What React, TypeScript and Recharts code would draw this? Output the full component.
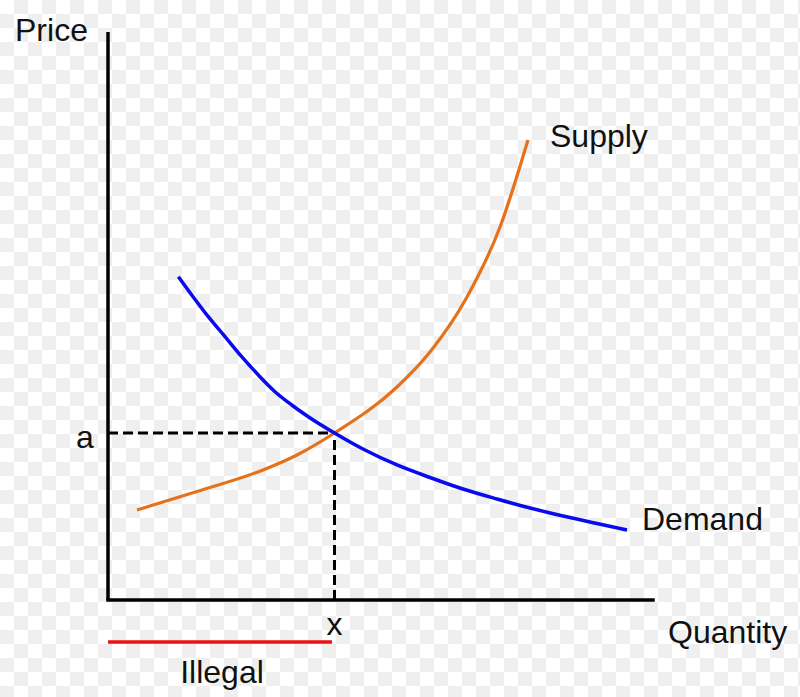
import React from 'react';
import { LineChart, Line, XAxis, YAxis, ReferenceLine, ReferenceDot } from 'recharts';

// Supply curve (quantity, price)
const supplyQty = [5.32, 16.33, 28.44, 34.68, 41.56, 53.03, 59.08, 65.87, 71.93, 77.06];
const supplyPrice = [15.85, 19.1, 22.89, 25.53, 29.4, 37.5, 43.66, 53.35, 65.67, 80.99];

// Demand curve (quantity, price)
const demandQty = [12.9, 15.36, 18.4, 21.47, 24.53, 27.58, 30.64, 33.71, 36.75, 41.56, 46.79, 53.03, 59.08, 65.14, 71.38, 77.43, 83.49, 89.72, 95.23];
const demandPrice = [56.92, 53.7, 49.88, 46.36, 42.83, 39.61, 36.67, 34.33, 32.27, 29.4, 26.58, 23.77, 21.57, 19.54, 17.78, 16.2, 14.79, 13.47, 12.32];

// Equilibrium
const eqQty = 41.56;
const eqPrice = 29.4;

// Illegal range on quantity axis
const illegalFrom = 0;
const illegalTo = 41.1;

const supplyData = supplyQty.map((q, i) => ({ q, p: supplyPrice[i] }));
const demandData = demandQty.map((q, i) => ({ q, p: demandPrice[i] }));

const FONT = '"Liberation Sans", Arial, Helvetica, sans-serif';

const txt = (value: string, anchor: 'start' | 'middle' | 'end' = 'start') => (props: any) => {
  const vb = props.viewBox || {};
  const x = (vb.x ?? 0) + (vb.width ?? 0) / 2;
  const y = (vb.y ?? 0) + (vb.height ?? 0) / 2;
  return (
    <text x={x} y={y} textAnchor={anchor} fontSize={32} fontFamily={FONT} fill="#111">
      {value}
    </text>
  );
};

const G = '#efefef';

export default function App() {
  return (
    <div
      style={{
        position: 'absolute',
        left: 0,
        top: 0,
        width: 800,
        height: 697,
        backgroundColor: '#ffffff',
        backgroundImage: `linear-gradient(45deg, ${G} 25%, transparent 25%, transparent 75%, ${G} 75%), linear-gradient(45deg, ${G} 25%, transparent 25%, transparent 75%, ${G} 75%)`,
        backgroundSize: '28px 28px',
        backgroundPosition: '0px 0px, 14px 14px',
      }}
    >
      <LineChart width={800} height={697} margin={{ top: 32, right: 147, bottom: 97, left: 108 }}>
        <XAxis type="number" dataKey="q" domain={[0, 100]} hide />
        <YAxis type="number" dataKey="p" domain={[0, 100]} hide />
        <ReferenceLine
          segment={[{ x: 0, y: eqPrice }, { x: eqQty, y: eqPrice }]}
          stroke="#000"
          strokeWidth={3}
          strokeDasharray="10 5"
          ifOverflow="visible"
        />
        <ReferenceLine
          segment={[{ x: eqQty, y: 0 }, { x: eqQty, y: eqPrice }]}
          stroke="#000"
          strokeWidth={3}
          strokeDasharray="10 5"
          ifOverflow="visible"
        />
        <ReferenceLine
          segment={[{ x: illegalFrom, y: -7.4 }, { x: illegalTo, y: -7.4 }]}
          stroke="#ee1111"
          strokeWidth={3.5}
          ifOverflow="visible"
        />
        <ReferenceLine
          segment={[{ x: 0, y: 0 }, { x: 100, y: 0 }]}
          stroke="#000"
          strokeWidth={3.5}
          strokeLinecap="square"
          ifOverflow="visible"
        />
        <ReferenceLine
          segment={[{ x: 0, y: 0 }, { x: 0, y: 100 }]}
          stroke="#000"
          strokeWidth={3.5}
          ifOverflow="visible"
        />
        <Line
          data={supplyData}
          dataKey="p"
          type="monotone"
          stroke="#e5721a"
          strokeWidth={3.2}
          dot={false}
          isAnimationActive={false}
        />
        <Line
          data={demandData}
          dataKey="p"
          type="monotone"
          stroke="#0a0aee"
          strokeWidth={3.5}
          dot={false}
          isAnimationActive={false}
        />
        <ReferenceDot x={-17.06} y={98.42} r={0} fill="none" stroke="none" ifOverflow="visible" label={txt('Price')} />
        <ReferenceDot x={81.1} y={79.75} r={0} fill="none" stroke="none" ifOverflow="visible" label={txt('Supply')} />
        <ReferenceDot x={97.98} y={12.32} r={0} fill="none" stroke="none" ifOverflow="visible" label={txt('Demand')} />
        <ReferenceDot x={102.75} y={-7.57} r={0} fill="none" stroke="none" ifOverflow="visible" label={txt('Quantity')} />
        <ReferenceDot x={-5.87} y={26.76} r={0} fill="none" stroke="none" ifOverflow="visible" label={txt('a')} />
        <ReferenceDot x={eqQty} y={-6.16} r={0} fill="none" stroke="none" ifOverflow="visible" label={txt('x', 'middle')} />
        <ReferenceDot x={20.92} y={-14.61} r={0} fill="none" stroke="none" ifOverflow="visible" label={txt('Illegal', 'middle')} />
      </LineChart>
    </div>
  );
}
